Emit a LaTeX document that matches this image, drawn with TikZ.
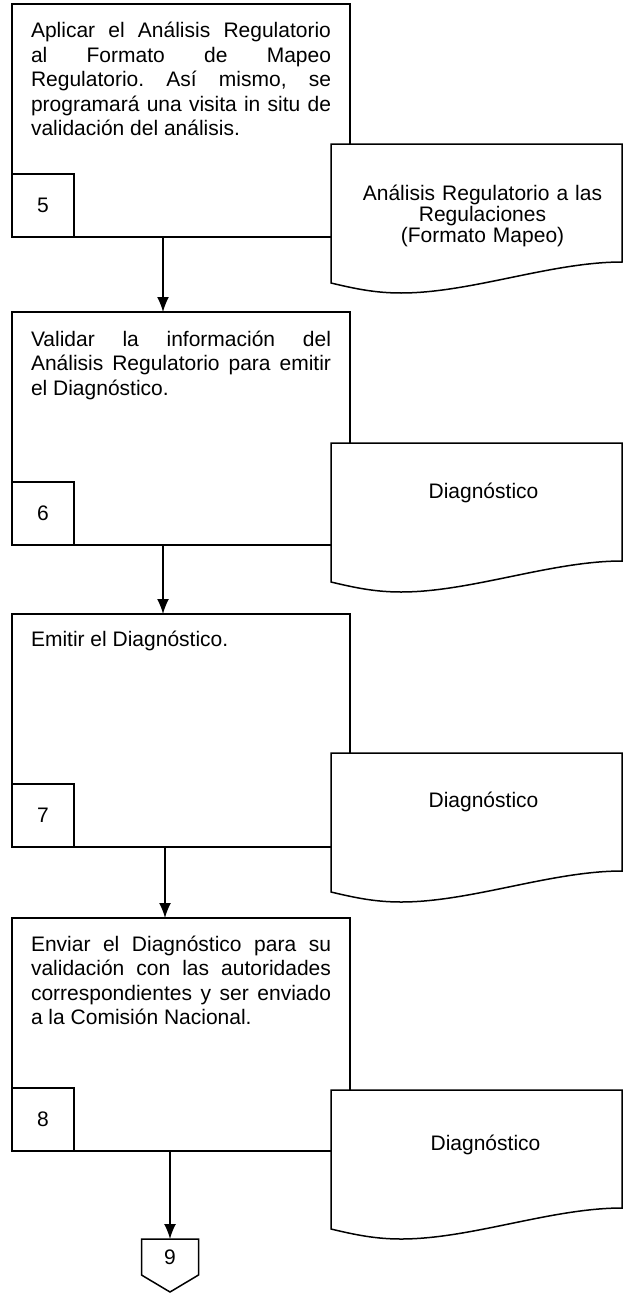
\documentclass[tikz,border=0pt]{standalone}
\usepackage{fontspec}
\setmainfont{Liberation Sans}
\usetikzlibrary{arrows.meta}
\tolerance=10000
\hbadness=10000
\hyphenpenalty=10000
\frenchspacing
\begin{document}
\begin{tikzpicture}[x=1pt,y=-1pt,
   every node/.style={inner sep=0pt,outer sep=0pt,font=\fontsize{21}{24.5}\selectfont},
   proc/.style={draw,line width=1.5pt,anchor=north west,minimum width=338pt,minimum height=233pt},
   numbox/.style={draw,line width=1.5pt,anchor=south west,minimum width=62pt,minimum height=63pt},
   proctext/.style={anchor=base west,text width=300pt,align=justify},
   doc/.style={anchor=north west,minimum width=291pt,minimum height=139pt},
   doctext/.style={anchor=base,text width=280pt,align=center,font=\fontsize{21}{21}\selectfont},
   docline/.style={line width=1.5pt,fill=white},
   flow/.style={line width=1.5pt,-{Latex[length=15pt,width=12pt]}}]
   \useasboundingbox (0,0) rectangle (623,1295);
   \node [proc] (p5) at (12,4) {};
   \node [proc] (p6) at (12,312) {};
   \node [proc] (p7) at (12,614) {};
   \node [proc] (p8) at (12,918) {};
   \node [numbox] (n5) at (p5.south west) {5};
   \node [numbox] (n6) at (p6.south west) {6};
   \node [numbox] (n7) at (p7.south west) {7};
   \node [numbox] (n8) at (p8.south west) {8};
   \node [proctext] (t5) at ([shift={(19,34)}]p5.north west) {Aplicar el Análisis Regulatorio\linebreak al Formato de Mapeo\linebreak Regulatorio. Así mismo, se\linebreak programará una visita in situ de\linebreak validación del análisis.};
   \node [proctext] (t6) at ([shift={(19,34)}]p6.north west) {Validar la información del\linebreak Análisis Regulatorio para emitir\linebreak el Diagnóstico.};
   \node [proctext] (t7) at ([shift={(19,32)}]p7.north west) {Emitir el Diagnóstico.};
   \node [proctext] (t8) at ([shift={(19,33)}]p8.north west) {Enviar el Diagnóstico para su\linebreak validación con las autoridades\linebreak correspondientes y ser enviado\linebreak a la Comisión Nacional.};
   \node [doc] (d5) at (331,144) {};
   \node [doc] (d6) at (331,443) {};
   \node [doc] (d7) at (331,753) {};
   \node [doc] (d8) at (331,1090) {};
   \foreach \d in {d5,d6,d7,d8}
      \filldraw [docline] (\d.south west) -- (\d.north west) -- (\d.north east) -- ([shift={(0,-21)}]\d.south east)
         .. controls ([shift={(220,-21)}]\d.south west) and ([shift={(140,10)}]\d.south west) .. ([shift={(70,10)}]\d.south west)
         .. controls ([shift={(45,10)}]\d.south west) and ([shift={(25,6)}]\d.south west) .. cycle;
   \node [doctext] (d5t) at ([shift={(6,56)}]d5.north) {Análisis Regulatorio a las\\Regulaciones\\(Formato Mapeo)};
   \node [doctext] (d6t) at ([shift={(7,55)}]d6.north) {Diagnóstico};
   \node [doctext] (d7t) at ([shift={(7,54)}]d7.north) {Diagnóstico};
   \node [doctext] (d8t) at ([shift={(9,60)}]d8.north) {Diagnóstico};
   \node [minimum width=57pt,minimum height=36pt] (c9) at (170,1257) {9};
   \draw [line width=1.5pt] (c9.north west) -- (c9.north east) -- (c9.south east) -- ([yshift=-17pt]c9.south) -- (c9.south west) -- cycle;
   \draw [flow] ([xshift=-18pt]p5.south) -- ([xshift=-18pt]p6.north);
   \draw [flow] ([xshift=-18pt]p6.south) -- ([xshift=-18pt]p7.north);
   \draw [flow] ([xshift=-16pt]p7.south) -- ([xshift=-16pt]p8.north);
   \draw [flow] ([xshift=-11pt]p8.south) -- (c9.north);
\end{tikzpicture}
\end{document}
